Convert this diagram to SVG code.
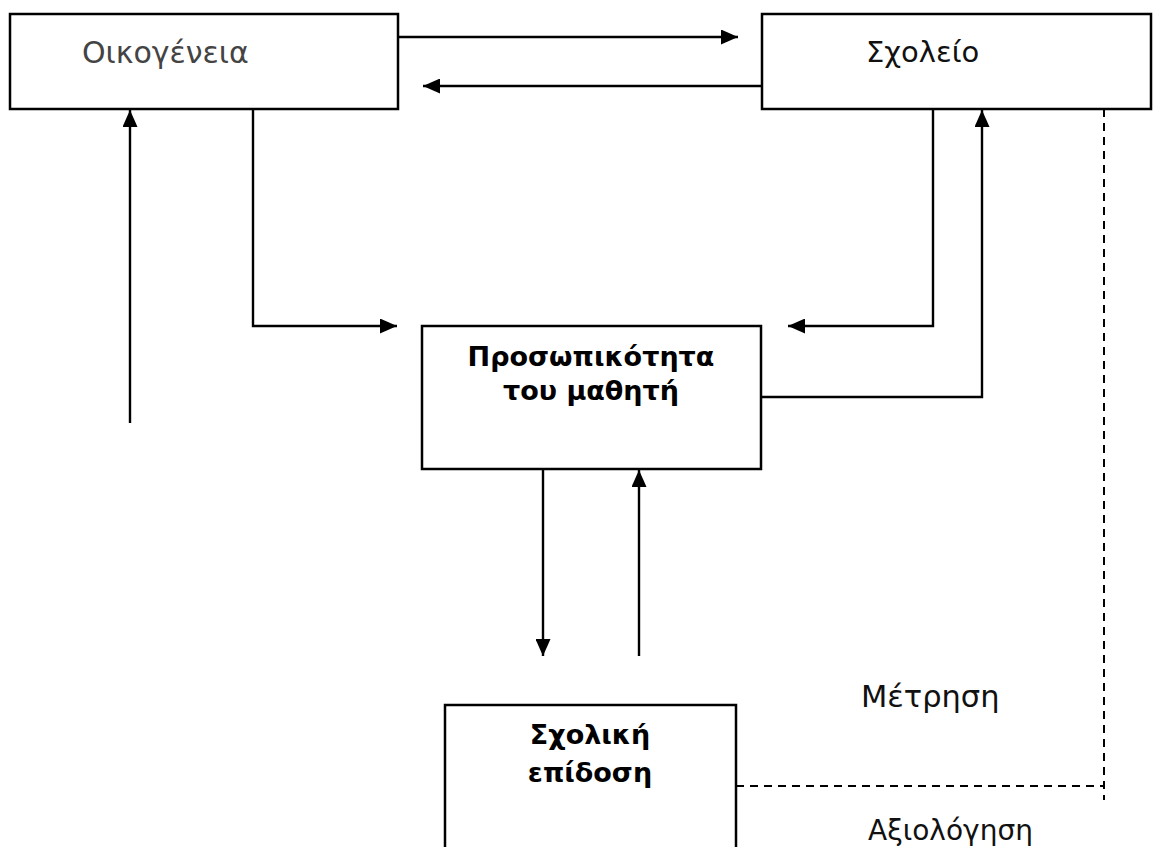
<svg xmlns="http://www.w3.org/2000/svg" width="1156" height="847" viewBox="0 0 1156 847">
<style>
.box{fill:#fff;stroke:#000;stroke-width:2.5}
.ln{fill:none;stroke:#000;stroke-width:2.4}
.dash{fill:none;stroke:#000;stroke-width:2;stroke-dasharray:8 6}
.t{font-family:"DejaVu Sans",Verdana,sans-serif;font-size:29px;fill:#111}
.b{font-family:"DejaVu Sans",Verdana,sans-serif;font-size:27px;font-weight:bold;fill:#000;text-anchor:middle}
</style>
<defs>
<marker id="ah" viewBox="0 0 17 15" refX="17" refY="7.5" markerWidth="17" markerHeight="15" markerUnits="userSpaceOnUse" orient="auto">
<path d="M0,0 L17,7.5 L0,15 Z" fill="#000"/>
</marker>
</defs>
<g id="connectors">
<line class="ln" x1="398" y1="37" x2="738" y2="37" marker-end="url(#ah)"/>
<line class="ln" x1="762" y1="86" x2="423" y2="86" marker-end="url(#ah)"/>
<line class="ln" x1="130" y1="423" x2="130" y2="110" marker-end="url(#ah)"/>
<polyline class="ln" points="253,109 253,326 397,326" marker-end="url(#ah)"/>
<polyline class="ln" points="933,109 933,326 788,326" marker-end="url(#ah)"/>
<polyline class="ln" points="761,397 982,397 982,110" marker-end="url(#ah)"/>
<line class="ln" x1="543" y1="469" x2="543" y2="656" marker-end="url(#ah)"/>
<line class="ln" x1="639" y1="656" x2="639" y2="470" marker-end="url(#ah)"/>
<polyline class="dash" points="1104,109 1104,800"/>
<line class="dash" x1="736" y1="786" x2="1104" y2="786"/>
</g>
<g id="oikogeneia">
<rect class="box" x="10" y="14" width="388" height="95"/>
<text class="t" x="82" y="63" style="fill:#444;font-size:30px">Οικογένεια</text>
</g>
<g id="scholeio">
<rect class="box" x="762" y="14" width="389" height="95"/>
<text class="t" x="866" y="62">Σχολείο</text>
</g>
<g id="prosopikotita">
<rect class="box" x="422" y="326" width="339" height="143"/>
<text class="b" x="591" y="366">Προσωπικότητα</text>
<text class="b" x="591" y="400">του μαθητή</text>
</g>
<g id="scholiki">
<rect class="box" x="445" y="705" width="291" height="150"/>
<text class="b" x="590" y="744">Σχολική</text>
<text class="b" x="590" y="782">επίδοση</text>
</g>
<g id="labels">
<text class="t" x="861" y="707" style="font-size:30.5px">Μέτρηση</text>
<text class="t" x="868" y="840" style="font-size:28px">Αξιολόγηση</text>
</g>
</svg>
